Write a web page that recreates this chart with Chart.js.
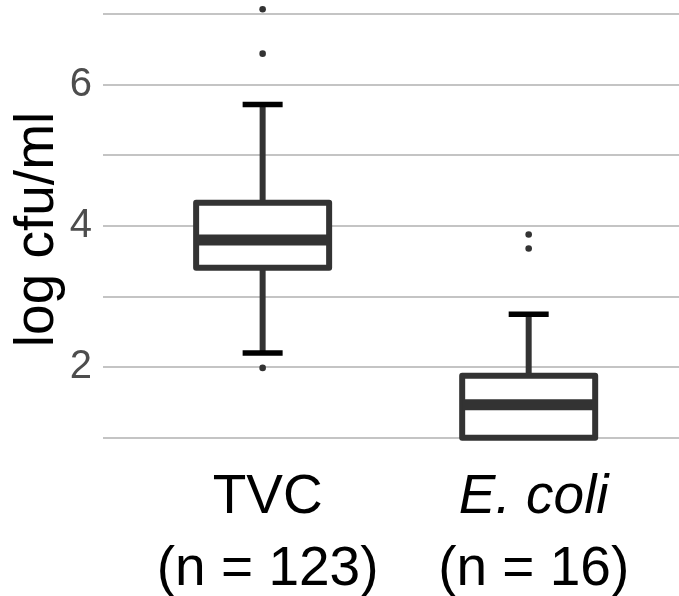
<!DOCTYPE html>
<html>
<head>
<meta charset="utf-8">
<script src="https://cdn.jsdelivr.net/npm/chart.js@4.4.1/dist/chart.umd.min.js"></script>
<style>
  html, body { margin: 0; padding: 0; background: #fff; }
  #wrap { width: 679px; height: 596px; position: relative; }
</style>
</head>
<body>
<div id="wrap"><canvas id="boxChart"></canvas></div>
<script>
// data
const groups = ["TVC", "E. coli"];
const groupCounts = ["(n = 123)", "(n = 16)"];
const lowerWhisker = [2.2, 1.0];
const lowerQuartile = [3.41, 1.0];
const medians = [3.8, 1.47];
const upperQuartile = [4.33, 1.88];
const upperWhisker = [5.72, 2.75];
const outliers = [[7.07, 6.44, 1.99], [3.88, 3.68]];
const yTickLabels = [2, 4, 6];

const FONT = '"Liberation Sans", Arial, sans-serif';

const boxData = groups.map((g, i) => ({ x: i + 1, y: [lowerQuartile[i], upperQuartile[i]] }));
const outlierData = [];
outliers.forEach((list, i) => list.forEach(v => outlierData.push({ x: i + 1, y: v })));

// whiskers + caps go under the boxes; box outline and medians on top
// (outline stroked on the bar element so the line sits centred on the quartiles)
const boxExtras = {
  id: 'boxExtras',
  beforeDatasetsDraw(chart) {
    const { ctx, scales: { x, y } } = chart;
    ctx.save();
    groups.forEach((g, i) => {
      const cx = x.getPixelForValue(i + 1);
      ctx.strokeStyle = '#333333';
      ctx.lineWidth = 6;
      ctx.beginPath();
      ctx.moveTo(cx, y.getPixelForValue(upperQuartile[i]));
      ctx.lineTo(cx, y.getPixelForValue(upperWhisker[i]));
      if (lowerWhisker[i] < lowerQuartile[i]) {
        ctx.moveTo(cx, y.getPixelForValue(lowerQuartile[i]));
        ctx.lineTo(cx, y.getPixelForValue(lowerWhisker[i]));
      }
      ctx.stroke();

      ctx.strokeStyle = '#000000';
      ctx.lineWidth = 5.5;
      ctx.beginPath();
      const yt = y.getPixelForValue(upperWhisker[i]);
      ctx.moveTo(cx - 20, yt);
      ctx.lineTo(cx + 20, yt);
      if (lowerWhisker[i] < lowerQuartile[i]) {
        const yb = y.getPixelForValue(lowerWhisker[i]);
        ctx.moveTo(cx - 20, yb);
        ctx.lineTo(cx + 20, yb);
      }
      ctx.stroke();
    });
    ctx.restore();
  },
  afterDatasetsDraw(chart) {
    const { ctx, scales: { y } } = chart;
    const bars = chart.getDatasetMeta(0).data;
    ctx.save();
    ctx.strokeStyle = '#333333';
    ctx.lineJoin = 'round';
    bars.forEach((bar, i) => {
      const p = bar.getProps(['x', 'y', 'base', 'width']);
      const left = p.x - p.width / 2;
      ctx.lineWidth = 6;
      ctx.strokeRect(left, p.y, p.width, p.base - p.y);
      const ym = y.getPixelForValue(medians[i]);
      ctx.lineWidth = 11;
      ctx.beginPath();
      ctx.moveTo(left, ym);
      ctx.lineTo(left + p.width, ym);
      ctx.stroke();
    });
    ctx.restore();
  },
  afterDraw(chart) {
    const { ctx, chartArea, scales: { x } } = chart;
    ctx.save();
    ctx.fillStyle = '#000000';
    ctx.textAlign = 'center';
    ctx.textBaseline = 'alphabetic';
    groups.forEach((g, i) => {
      const cx = x.getPixelForValue(i + 1) + 5;
      ctx.font = (i === 1 ? 'italic ' : '') + '55px ' + FONT;
      ctx.fillText(g, cx, chartArea.bottom + 54);
      ctx.font = '55px ' + FONT;
      ctx.fillText(groupCounts[i], cx, chartArea.bottom + 126);
    });
    ctx.restore();
  }
};

const ctx = document.getElementById('boxChart').getContext('2d');
new Chart(ctx, {
  type: 'bar',
  data: {
    datasets: [{
      label: 'box',
      data: boxData,
      backgroundColor: '#ffffff',
      borderWidth: 0,
      barThickness: 133,
      order: 2
    }, {
      type: 'scatter',
      label: 'outliers',
      data: outlierData,
      backgroundColor: '#333333',
      borderWidth: 0,
      pointRadius: 3.3,
      order: 1
    }]
  },
  options: {
    responsive: true,
    maintainAspectRatio: false,
    animation: false,
    layout: { autoPadding: false, padding: { top: 0, right: 0, bottom: 137, left: 0 } },
    plugins: {
      legend: { display: false },
      tooltip: { enabled: false }
    },
    scales: {
      x: {
        type: 'linear',
        min: 0.4,
        max: 2.565,
        offset: false,
        grid: { offset: false },
        display: false
      },
      y: {
        min: 0.7,
        max: 7.2,
        ticks: {
          stepSize: 1,
          includeBounds: false,
          padding: 11,
          color: '#4D4D4D',
          font: { family: FONT, size: 40 },
          callback: v => yTickLabels.includes(v) ? String(v) : ''
        },
        grid: { color: '#C4C4C4', lineWidth: 2, drawTicks: false },
        border: { display: false },
        title: {
          display: true,
          text: 'log cfu/ml',
          color: '#000000',
          font: { family: FONT, size: 55 },
          padding: { top: 5, bottom: 0 }
        },
        afterFit(s) {
          s.width = 103;
          s.paddingTop = 0;
          s.paddingBottom = 0;
        }
      }
    }
  },
  plugins: [boxExtras]
});
</script>
</body>
</html>
